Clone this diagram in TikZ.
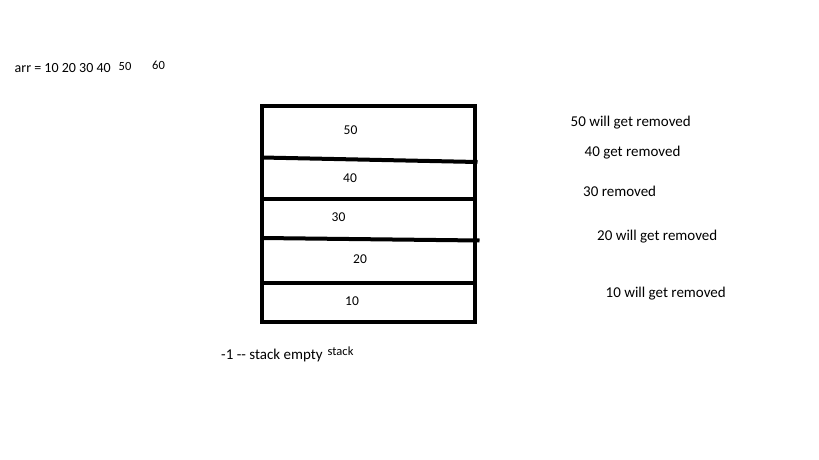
\documentclass[tikz,border=0pt]{standalone}
\usepackage{fontspec}
\setmainfont{Carlito}
\begin{document}
\begin{tikzpicture}[x=1pt,y=-1pt,
  lbl/.style={inner sep=0pt,font=\fontsize{15}{17}\selectfont},
  arrtxt/.style={inner sep=0pt,font=\fontsize{14}{16}\selectfont},
  stk/.style={inner sep=0pt,font=\fontsize{13.5}{15}\selectfont},
  small/.style={inner sep=0pt,font=\fontsize{12.5}{14}\selectfont},
  thick4/.style={line width=4pt,draw=black}]
\useasboundingbox[fill=white] (0,0) rectangle (819,460);
% stack box
\draw[thick4] (261.5,105.5) rectangle (474.5,322);
\draw[thick4] (262,157.5) -- (477.5,162);
\draw[thick4] (262,199) -- (474,199);
\draw[thick4] (262,238) -- (479.5,240.5);
\draw[thick4] (262,283) -- (474,283);
% stack values
\node[stk] (v50) at (350.5,130.5) {50};
\node[stk] (v40) at (350,178.5) {40};
\node[stk] (v30) at (338.5,217.5) {30};
\node[stk] (v20) at (360,259.5) {20};
\node[stk] (v10) at (352,301.5) {10};
% array text
\node[arrtxt,anchor=west] (arr) at (14.5,68.5) {arr = 10 20 30 40};
\node[small,anchor=west] (a50) at (118.5,66) {50};
\node[small,anchor=west] (a60) at (152,65.5) {60};
% right labels
\node[lbl,anchor=west] (r50) at (570.5,122.5) {50 will get removed};
\node[lbl,anchor=west] (r40) at (584.5,152.5) {40 get removed};
\node[lbl,anchor=west] (r30) at (583,191.5) {30 removed};
\node[lbl,anchor=west] (r20) at (597,236.5) {20 will get removed};
\node[lbl,anchor=west] (r10) at (605.5,294) {10 will get removed};
% bottom
\node[lbl,anchor=west] (empty) at (221,355) {-1 {-}{-} stack empty};
\node[small,anchor=west] (stk) at (327.5,351) {stack};
\end{tikzpicture}
\end{document}
